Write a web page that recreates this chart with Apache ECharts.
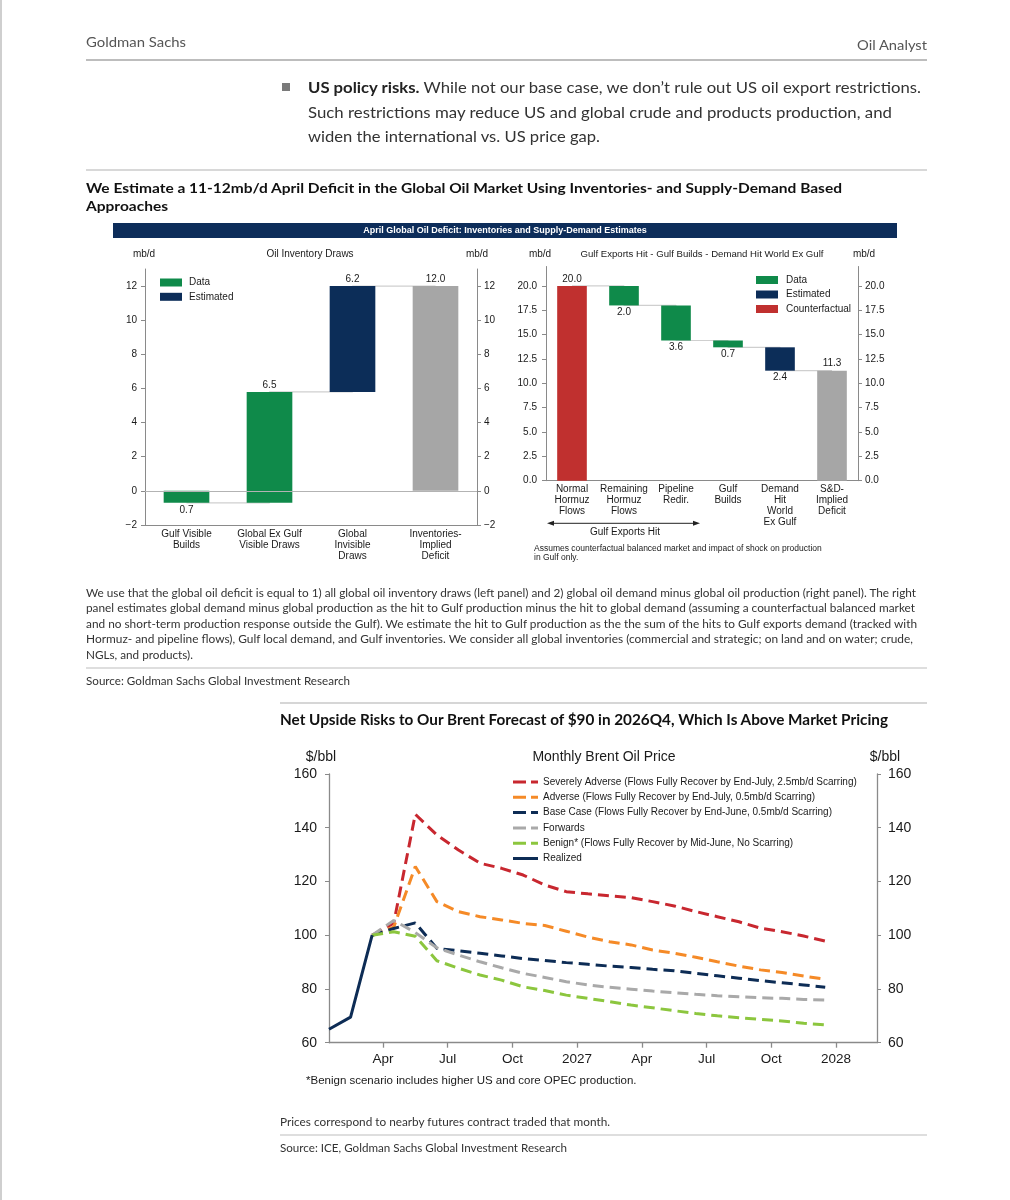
<!DOCTYPE html>
<html>
<head>
<meta charset="utf-8">
<script src="https://cdn.jsdelivr.net/npm/echarts@6/dist/echarts.min.js"></script>
<style>
html,body{margin:0;padding:0;background:#fff;}
#page{position:relative;width:1010px;height:1200px;overflow:hidden;background:#fff;}
.t{position:absolute;white-space:nowrap;font-family:Lato,'Open Sans',sans-serif;color:#333;transform-origin:0 50%;}
.rule{position:absolute;}
#chart{position:absolute;left:0;top:0;width:1010px;height:1200px;}
</style>
</head>
<body>
<div id="page">
  <div id="chart"></div>
</div>
<script>
// ---------------- DATA ----------------
const leftCats = ['Gulf Visible\nBuilds', 'Global Ex Gulf\nVisible Draws', 'Global\nInvisible\nDraws', 'Inventories-\nImplied\nDeficit'];
const leftSteps = [-0.7, 6.5, 6.2];
const leftKinds = ['Data', 'Data', 'Estimated'];
const leftTotal = 12.0;
const leftYTicks = [-2, 0, 2, 4, 6, 8, 10, 12];

const rightCats = ['Normal\nHormuz\nFlows', 'Remaining\nHormuz\nFlows', 'Pipeline\nRedir.', 'Gulf\nBuilds', 'Demand\nHit\nWorld\nEx Gulf', 'S&D-\nImplied\nDeficit'];
const rightStart = 20.0;
const rightSteps = [-2.0, -3.6, -0.7, -2.4];
const rightKinds = ['Data', 'Data', 'Data', 'Estimated'];
const rightTotal = 11.3;
const rightYTicks = [0, 2.5, 5, 7.5, 10, 12.5, 15, 17.5, 20];

const priceYTicks = [60, 80, 100, 120, 140, 160];
const monthTickPos = [3, 6, 9, 12, 15, 18, 21, 24];          // months since Jan 2026
const monthTickLabels = ['Apr', 'Jul', 'Oct', '2027', 'Apr', 'Jul', 'Oct', '2028'];
const realizedStart = 0;   // Jan 2026
const realized = [65.0, 69.5, 100.0];
const forecastStart = 2;   // Mar 2026 .. Dec 2027
const severelyAdverse = [100, 104.5, 145, 137.3, 131.7, 126.8, 124.9, 122.4, 118.7, 116.2, 115.4, 114.7, 114.0, 112.5, 110.9, 108.8, 106.9, 105.0, 102.6, 101.3, 99.7, 97.8];
const adverse = [100, 103, 125.6, 112.5, 108.8, 106.9, 105.7, 104.4, 103.6, 101.5, 99.3, 97.6, 96.4, 94.5, 93.3, 91.8, 90.1, 88.5, 87.1, 86.1, 84.8, 83.6];
const baseCase = [100, 102.5, 104.6, 95.1, 94.2, 93.3, 92.3, 91.3, 90.6, 89.8, 89.2, 88.5, 88.0, 87.3, 86.8, 85.8, 84.9, 84.0, 83.1, 82.3, 81.5, 80.6];
const forwards = [100, 105.5, 101, 95.3, 92.6, 90.1, 87.9, 85.8, 84.3, 82.7, 81.5, 80.6, 79.9, 79.2, 78.6, 78.0, 77.5, 77.1, 76.7, 76.5, 76.1, 75.9];
const benign = [100, 101.3, 99.6, 90.5, 87.7, 85.2, 83.3, 80.8, 79.4, 77.7, 76.5, 75.3, 74.0, 73.0, 71.9, 70.9, 70.0, 69.3, 68.7, 68.1, 67.2, 66.6];

// ---------------- PAGE TEXT ----------------
const page = document.getElementById('page');
function rule(x, y, w, h, c) {
  const d = document.createElement('div');
  d.className = 'rule';
  d.style.cssText = `left:${x}px;top:${y}px;width:${w}px;height:${h}px;background:${c};`;
  page.appendChild(d);
}
function txt(o) {
  const d = document.createElement('div');
  d.className = 't';
  d.style.fontSize = o.s + 'px';
  d.style.lineHeight = o.s + 'px';
  d.style.left = o.x + 'px';
  d.style.top = (o.y - o.s / 2) + 'px';
  d.style.color = o.c || '#333';
  if (o.b) d.style.fontWeight = '700';
  if (o.html) d.innerHTML = o.html; else d.textContent = o.t;
  page.appendChild(d);
  if (o.w) {
    const w = d.getBoundingClientRect().width;
    if (w > 0) d.style.transform = `scaleX(${o.w / w})`;
  }
}
rule(0, 0, 2, 1200, '#cfcfcf');
rule(86, 59, 841, 2, '#bdbdbd');
rule(86, 169, 841, 2, '#d8d8d8');
rule(86, 667, 841, 2, '#dedede');
rule(280, 702, 647, 2, '#d6d6d6');
rule(280, 1134, 647, 2, '#dedede');
rule(282, 83, 8, 8, '#7a7a7a');

const captionLines = [
  'We use that the global oil deficit is equal to 1) all global oil inventory draws (left panel) and 2) global oil demand minus global oil production (right panel). The right',
  'panel estimates global demand minus global production as the hit to Gulf production minus the hit to global demand (assuming a counterfactual balanced market',
  'and no short-term production response outside the Gulf). We estimate the hit to Gulf production as the the sum of the hits to Gulf exports demand (tracked with',
  'Hormuz- and pipeline flows), Gulf local demand, and Gulf inventories. We consider all global inventories (commercial and strategic; on land and on water; crude,',
  'NGLs, and products).'
];
const captionW = [830, 829, 831, 827, 107];
[
  {t: 'Goldman Sachs', x: 86, y: 42, s: 14, c: '#555', w: 100},
  {t: 'Oil Analyst', x: 857, y: 45, s: 14, c: '#555', w: 70},
  {html: '<b style="color:#222">US policy risks.</b> While not our base case, we don’t rule out US oil export restrictions.', x: 308, y: 87, s: 16, w: 613},
  {t: 'Such restrictions may reduce US and global crude and products production, and', x: 308, y: 112, s: 16, w: 584},
  {t: 'widen the international vs. US price gap.', x: 308, y: 136, s: 16, w: 292},
  {t: 'We Estimate a 11-12mb/d April Deficit in the Global Oil Market Using Inventories- and Supply-Demand Based', x: 86, y: 188, s: 14, b: 1, c: '#111', w: 756},
  {t: 'Approaches', x: 86, y: 206, s: 14, b: 1, c: '#111', w: 82},
  {t: 'Source: Goldman Sachs Global Investment Research', x: 86, y: 680, s: 11, w: 264},
  {t: 'Net Upside Risks to Our Brent Forecast of $90 in 2026Q4, Which Is Above Market Pricing', x: 280, y: 720, s: 14.5, b: 1, c: '#111', w: 608},
  {t: 'Prices correspond to nearby futures contract traded that month.', x: 280, y: 1121, s: 11, w: 330},
  {t: 'Source: ICE, Goldman Sachs Global Investment Research', x: 280, y: 1147, s: 11, w: 287}
].forEach(txt);
captionLines.forEach((l, i) => txt({t: l, x: 86, y: 592 + i * 15.6, s: 11, w: captionW[i]}));

// ---------------- CHARTS ----------------
const GREEN = '#0f8a4a', NAVY = '#0c2d58', RED = '#c0302f', GREY = '#a6a6a6';
const AX = '#8a8a8a', TXT = '#1a1a1a', FONT = "'Liberation Sans', Arial, sans-serif";
const r1 = v => Math.round(v * 10) / 10;

// left waterfall (stackStrategy 'all' -> use 0 for empty slots so stacking stays numeric)
const lBase = [], lData = [], lEst = [], lTot = [], lLevels = [];
let lev = 0;
leftSteps.forEach((s, i) => {
  lBase.push(r1(lev));
  const item = {value: s, label: {position: s < 0 ? 'bottom' : 'top'}};
  lData.push(leftKinds[i] === 'Data' ? item : 0);
  lEst.push(leftKinds[i] === 'Estimated' ? item : 0);
  lTot.push(0);
  lev = r1(lev + s);
  lLevels.push(lev);
});
lBase.push(0); lData.push(0); lEst.push(0); lTot.push({value: leftTotal, label: {position: 'top'}}); lLevels.push(leftTotal);

// right waterfall
const rBase = [0], rCf = [{value: rightStart, label: {position: 'top'}}], rData = ['-'], rEst = ['-'], rTot = ['-'], rLevels = [rightStart];
lev = rightStart;
rightSteps.forEach((s, i) => {
  const end = r1(lev + s);
  rBase.push(Math.min(lev, end));
  const item = {value: Math.abs(s), label: {position: s < 0 ? 'bottom' : 'top'}};
  rData.push(rightKinds[i] === 'Data' ? item : '-');
  rEst.push(rightKinds[i] === 'Estimated' ? item : '-');
  rTot.push('-'); rCf.push('-');
  lev = end;
  rLevels.push(lev);
});
rBase.push(0); rData.push('-'); rEst.push('-'); rCf.push('-'); rTot.push({value: rightTotal, label: {position: 'top'}}); rLevels.push(rightTotal);

const barLabel = {show: true, fontSize: 10, color: TXT, distance: 2, fontFamily: FONT,
  formatter: p => (p.value === 0 || p.value === '-') ? '' : Math.abs(p.value).toFixed(1)};

function valAxis(grid, pos, min, max, interval, ticks, fmt, fs, margin, extra) {
  return Object.assign({
    type: 'value', gridIndex: grid, position: pos, min, max, interval,
    axisLine: {show: true, lineStyle: {color: AX, width: 1}},
    axisTick: {show: true, inside: false, length: 4, lineStyle: {color: AX}, customValues: ticks},
    axisLabel: {show: true, fontSize: fs, color: TXT, margin, fontFamily: FONT, customValues: ticks,
      formatter: v => ticks.some(t => Math.abs(t - v) < 1e-6) ? fmt(v) : ''},
    splitLine: {show: false}
  }, extra || {});
}
const signed = v => (v < 0 ? '\u2212' + Math.abs(v) : String(v));

const dash = [11, 6];
function lineSeries(name, color, arr, start, solid) {
  return {
    name, type: 'line', xAxisIndex: 2, yAxisIndex: 4, symbol: 'none', z: solid ? 10 : 5,
    data: arr.map((v, i) => [start + i + 0.5, v]),
    lineStyle: {color, width: 3, type: solid ? 'solid' : dash, cap: 'butt'},
    itemStyle: {color}
  };
}
const DASH_ICON = 'path://M0,0 H13 V3 H0 Z M18,0 H25 V3 H18 Z';
const SOLID_ICON = 'path://M0,0 H25 V3 H0 Z';
const lineNames = ['Severely Adverse (Flows Fully Recover by End-July, 2.5mb/d Scarring)', 'Adverse (Flows Fully Recover by End-July, 0.5mb/d Scarring)',
  'Base Case (Flows Fully Recover by End-June, 0.5mb/d Scarring)', 'Forwards', 'Benign* (Flows Fully Recover by Mid-June, No Scarring)', 'Realized'];
const lineColors = ['#c8272f', '#f58a27', '#0d2c55', '#a9a9a9', '#8cc63e', '#0d2c55'];

const option = {
  animation: false,
  backgroundColor: 'transparent',
  textStyle: {fontFamily: FONT},
  grid: [
    {left: 145, top: 269, width: 332, height: 256, outerBoundsMode: 'none', containLabel: false},
    {left: 546, top: 266.5, width: 312, height: 214.2, outerBoundsMode: 'none', containLabel: false},
    {left: 329, top: 774, width: 548, height: 268.7, outerBoundsMode: 'none', containLabel: false}
  ],
  xAxis: [
    {type: 'category', gridIndex: 0, data: leftCats, position: 'bottom',
      axisLine: {onZero: false, lineStyle: {color: AX}}, axisTick: {show: false},
      axisLabel: {interval: 0, fontSize: 10, lineHeight: 11, color: TXT, margin: 4, fontFamily: FONT}},
    {type: 'category', gridIndex: 1, data: rightCats, position: 'bottom',
      axisLine: {onZero: false, lineStyle: {color: AX}}, axisTick: {show: false},
      axisLabel: {interval: 0, fontSize: 10, lineHeight: 11, color: TXT, margin: 3, fontFamily: FONT}},
    {type: 'value', gridIndex: 2, min: 0.5, max: 25.9, position: 'bottom',
      axisLine: {onZero: false, lineStyle: {color: AX, width: 1.3}},
      axisTick: {show: true, length: 5, lineStyle: {color: AX, width: 1.3}, customValues: monthTickPos},
      axisLabel: {fontSize: 13.5, color: TXT, margin: 10, fontFamily: FONT, customValues: monthTickPos,
        formatter: v => { const k = monthTickPos.findIndex(t => Math.abs(t - v) < 1e-6); return k >= 0 ? monthTickLabels[k] : ''; }},
      splitLine: {show: false}}
  ],
  yAxis: [
    valAxis(0, 'left', -2, 13, 2, leftYTicks, signed, 10, 8),
    valAxis(0, 'right', -2, 13, 2, leftYTicks, signed, 10, 7),
    valAxis(1, 'left', 0, 22, 2.5, rightYTicks, v => v.toFixed(1), 10, 9),
    valAxis(1, 'right', 0, 22, 2.5, rightYTicks, v => v.toFixed(1), 10, 7),
    valAxis(2, 'left', 60, 160, 20, priceYTicks, v => String(v), 14, 12,
      {axisLine: {show: true, lineStyle: {color: AX, width: 1.3}}}),
    valAxis(2, 'right', 60, 160, 20, priceYTicks, v => String(v), 14, 11,
      {axisLine: {show: true, lineStyle: {color: AX, width: 1.3}}})
  ],
  legend: [
    {data: ['Data', 'Estimated'], orient: 'vertical', left: 155, top: 272.5, icon: 'rect', itemWidth: 22, itemHeight: 8, itemGap: 4.3,
      textStyle: {fontSize: 10, color: TXT, padding: [0, 0, 0, 2]}, selectedMode: false},
    {data: ['Data', 'Estimated', 'Counterfactual'], orient: 'vertical', left: 751, top: 270, icon: 'rect', itemWidth: 22, itemHeight: 8, itemGap: 4.5,
      textStyle: {fontSize: 10, color: TXT, padding: [0, 0, 0, 3]}, selectedMode: false},
    {data: lineNames.map((n, i) => ({name: n, icon: i === 5 ? SOLID_ICON : DASH_ICON, itemStyle: {color: lineColors[i]}})),
      orient: 'vertical', left: 508, top: 772, itemWidth: 25, itemHeight: 3, itemGap: 5.3,
      textStyle: {fontSize: 10, color: TXT}, selectedMode: false}
  ],
  series: [
    // left waterfall
    {name: 'connL', type: 'line', xAxisIndex: 0, yAxisIndex: 0, step: 'end', symbol: 'none', z: 1, silent: true,
      data: lLevels, lineStyle: {color: '#cfcfcf', width: 1.2},
      markLine: {silent: true, symbol: ['none', 'none'], label: {show: false}, lineStyle: {color: '#b3b3b3', width: 1, type: 'solid'}, data: [{yAxis: 0}]}},
    {name: 'baseL', type: 'bar', xAxisIndex: 0, yAxisIndex: 0, stack: 'L', stackStrategy: 'all', barWidth: '55%', z: 3, silent: true,
      itemStyle: {color: 'transparent'}, data: lBase},
    {name: 'Data', type: 'bar', xAxisIndex: 0, yAxisIndex: 0, stack: 'L', stackStrategy: 'all', barWidth: '55%', z: 3,
      itemStyle: {color: GREEN}, label: barLabel, data: lData},
    {name: 'Estimated', type: 'bar', xAxisIndex: 0, yAxisIndex: 0, stack: 'L', stackStrategy: 'all', barWidth: '55%', z: 3,
      itemStyle: {color: NAVY}, label: barLabel, data: lEst},
    {name: 'TotalL', type: 'bar', xAxisIndex: 0, yAxisIndex: 0, stack: 'L', stackStrategy: 'all', barWidth: '55%', z: 3,
      itemStyle: {color: GREY}, label: barLabel, data: lTot},
    // right waterfall
    {name: 'connR', type: 'line', xAxisIndex: 1, yAxisIndex: 2, step: 'end', symbol: 'none', z: 1, silent: true,
      data: rLevels, lineStyle: {color: '#cfcfcf', width: 1.2}},
    {name: 'baseR', type: 'bar', xAxisIndex: 1, yAxisIndex: 2, stack: 'R', barWidth: '57%', z: 3, silent: true,
      itemStyle: {color: 'transparent'}, data: rBase},
    {name: 'Counterfactual', type: 'bar', xAxisIndex: 1, yAxisIndex: 2, stack: 'R', barWidth: '57%', z: 3,
      itemStyle: {color: RED}, label: barLabel, data: rCf},
    {name: 'Data', type: 'bar', xAxisIndex: 1, yAxisIndex: 2, stack: 'R', barWidth: '57%', z: 3,
      itemStyle: {color: GREEN}, label: barLabel, data: rData},
    {name: 'Estimated', type: 'bar', xAxisIndex: 1, yAxisIndex: 2, stack: 'R', barWidth: '57%', z: 3,
      itemStyle: {color: NAVY}, label: barLabel, data: rEst},
    {name: 'TotalR', type: 'bar', xAxisIndex: 1, yAxisIndex: 2, stack: 'R', barWidth: '57%', z: 3,
      itemStyle: {color: GREY}, label: barLabel, data: rTot},
    // price lines
    lineSeries(lineNames[0], lineColors[0], severelyAdverse, forecastStart),
    lineSeries(lineNames[1], lineColors[1], adverse, forecastStart),
    lineSeries(lineNames[2], lineColors[2], baseCase, forecastStart),
    lineSeries(lineNames[3], lineColors[3], forwards, forecastStart),
    lineSeries(lineNames[4], lineColors[4], benign, forecastStart),
    lineSeries(lineNames[5], lineColors[5], realized, realizedStart, true)
  ],
  graphic: [
    {type: 'rect', shape: {x: 113, y: 223, width: 784, height: 15}, style: {fill: '#0d2d5a'}, silent: true},
    {type: 'text', x: 505, y: 231, style: {text: 'April Global Oil Deficit: Inventories and Supply-Demand Estimates', fill: '#fff', font: "bold 9px 'Liberation Sans', Arial", align: 'center', verticalAlign: 'middle'}},
    {type: 'text', x: 144, y: 254, style: {text: 'mb/d', fill: TXT, font: "10px 'Liberation Sans', Arial", align: 'center', verticalAlign: 'middle'}},
    {type: 'text', x: 310, y: 254, style: {text: 'Oil Inventory Draws', fill: TXT, font: "10px 'Liberation Sans', Arial", align: 'center', verticalAlign: 'middle'}},
    {type: 'text', x: 477, y: 254, style: {text: 'mb/d', fill: TXT, font: "10px 'Liberation Sans', Arial", align: 'center', verticalAlign: 'middle'}},
    {type: 'text', x: 540, y: 254, style: {text: 'mb/d', fill: TXT, font: "10px 'Liberation Sans', Arial", align: 'center', verticalAlign: 'middle'}},
    {type: 'text', x: 702, y: 254, style: {text: 'Gulf Exports Hit - Gulf Builds - Demand Hit World Ex Gulf', fill: TXT, font: "9.6px 'Liberation Sans', Arial", align: 'center', verticalAlign: 'middle'}},
    {type: 'text', x: 864, y: 254, style: {text: 'mb/d', fill: TXT, font: "10px 'Liberation Sans', Arial", align: 'center', verticalAlign: 'middle'}},
    {type: 'line', shape: {x1: 550, y1: 523.3, x2: 697, y2: 523.3}, style: {stroke: '#222', lineWidth: 1}},
    {type: 'polygon', shape: {points: [[547, 523.3], [554, 520.8], [554, 525.8]]}, style: {fill: '#222'}},
    {type: 'polygon', shape: {points: [[700, 523.3], [693, 520.8], [693, 525.8]]}, style: {fill: '#222'}},
    {type: 'text', x: 625, y: 532, style: {text: 'Gulf Exports Hit', fill: TXT, font: "10px 'Liberation Sans', Arial", align: 'center', verticalAlign: 'middle'}},
    {type: 'text', x: 534, y: 548.5, style: {text: 'Assumes counterfactual balanced market and impact of shock on production', fill: TXT, font: "8.5px 'Liberation Sans', Arial", align: 'left', verticalAlign: 'middle'}},
    {type: 'text', x: 534, y: 557.5, style: {text: 'in Gulf only.', fill: TXT, font: "8.5px 'Liberation Sans', Arial", align: 'left', verticalAlign: 'middle'}},
    {type: 'text', x: 321, y: 757, style: {text: '$/bbl', fill: TXT, font: "14px 'Liberation Sans', Arial", align: 'center', verticalAlign: 'middle'}},
    {type: 'text', x: 604, y: 757, style: {text: 'Monthly Brent Oil Price', fill: TXT, font: "14px 'Liberation Sans', Arial", align: 'center', verticalAlign: 'middle'}},
    {type: 'text', x: 885, y: 757, style: {text: '$/bbl', fill: TXT, font: "14px 'Liberation Sans', Arial", align: 'center', verticalAlign: 'middle'}},
    {type: 'text', x: 306, y: 1081, style: {text: '*Benign scenario includes higher US and core OPEC production.', fill: TXT, font: "11.5px 'Liberation Sans', Arial", align: 'left', verticalAlign: 'middle'}}
  ]
};
const chart = echarts.init(document.getElementById('chart'), null, {renderer: 'canvas', width: 1010, height: 1200});
chart.setOption(option);
</script>
</body>
</html>
